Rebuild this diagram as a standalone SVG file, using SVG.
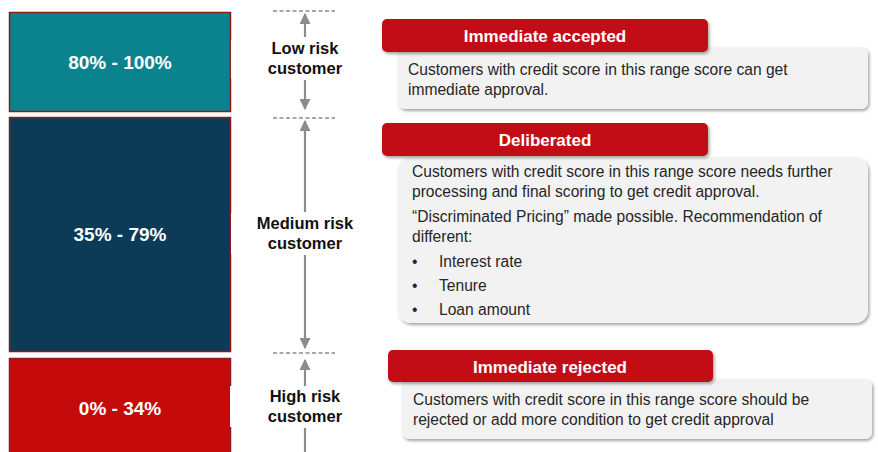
<svg xmlns="http://www.w3.org/2000/svg" width="878" height="452" viewBox="0 0 878 452">
  <style>
    .band { stroke: #8E1B1F; stroke-width: 1.5; }
    .band-text { font-family: "Liberation Sans", Arial, sans-serif; font-weight: bold; font-size: 19px; fill: #FFFFFF; text-anchor: middle; }
    .risk { font-family: "Liberation Sans", Arial, sans-serif; font-weight: bold; font-size: 16.5px; fill: #111111; text-anchor: middle; }
    .tab { fill: #C30B19; }
    .tab-text { font-family: "Liberation Sans", Arial, sans-serif; font-weight: bold; font-size: 17px; fill: #FFFFFF; text-anchor: middle; }
    .card { fill: #F2F2F2; }
    .body { font-family: "Liberation Sans", Arial, sans-serif; font-size: 15.6px; fill: #262626; }
    .guide { stroke: #8C8C8C; stroke-width: 1.3; stroke-dasharray: 4 2.5; fill: none; }
    .arrow { stroke: #8C8C8C; stroke-width: 2.2; fill: none; marker-end: url(#head); }
    .label-bg { fill: #FFFFFF; }
  </style>
  <defs>
    <marker id="head" viewBox="0 0 10 10" refX="9" refY="5" markerWidth="5" markerHeight="5" markerUnits="strokeWidth" orient="auto">
      <path d="M0,0 L10,5 L0,10 Z" fill="#8C8C8C"/>
    </marker>
    <filter id="shadow" x="-5%" y="-20%" width="112%" height="150%">
      <feDropShadow dx="1.5" dy="2" stdDeviation="1.5" flood-color="#000000" flood-opacity="0.35"/>
    </filter>
  </defs>

  <rect width="878" height="452" fill="#FFFFFF"/>

  <!-- score bands -->
  <g id="band-high-score">
    <rect class="band" x="9.5" y="12.5" width="221" height="99" fill="#0B838F"/>
    <text class="band-text" x="120" y="69">80% - 100%</text>
  </g>
  <g id="band-mid-score">
    <rect class="band" x="9.5" y="117.5" width="221" height="234" fill="#0B3B57"/>
    <text class="band-text" x="120" y="241">35% - 79%</text>
  </g>
  <g id="band-low-score">
    <rect class="band" x="9.5" y="358.5" width="221" height="100" fill="#C40A0B"/>
    <text class="band-text" x="120" y="415">0% - 34%</text>
  </g>

  <!-- risk range markers -->
  <g id="connectors">
    <line class="guide" x1="273" y1="11" x2="335" y2="11"/>
    <line class="guide" x1="273" y1="118" x2="335" y2="118"/>
    <line class="guide" x1="273" y1="353" x2="335" y2="353"/>
    <line class="arrow" x1="305" y1="37" x2="305" y2="14"/>
    <line class="arrow" x1="305" y1="80" x2="305" y2="109"/>
    <line class="arrow" x1="305" y1="212" x2="305" y2="121"/>
    <line class="arrow" x1="305" y1="255" x2="305" y2="348"/>
    <line class="arrow" x1="305" y1="386" x2="305" y2="360"/>
    <line class="arrow" x1="305" y1="428" x2="305" y2="475"/>
  </g>

  <g id="risk-low">
    <rect class="label-bg" x="231" y="40" width="148" height="39"/>
    <text class="risk" x="305" y="54">Low risk</text>
    <text class="risk" x="305" y="74">customer</text>
  </g>
  <g id="risk-medium">
    <rect class="label-bg" x="231" y="213" width="148" height="41"/>
    <text class="risk" x="305" y="229">Medium risk</text>
    <text class="risk" x="305" y="249">customer</text>
  </g>
  <g id="risk-high">
    <rect class="label-bg" x="230" y="386" width="149" height="41"/>
    <text class="risk" x="305" y="402">High risk</text>
    <text class="risk" x="305" y="422">customer</text>
  </g>

  <!-- decisions -->
  <g id="decision-accepted">
    <rect class="card" x="398" y="47" width="470" height="62" rx="7" filter="url(#shadow)"/>
    <rect class="tab" x="382" y="19" width="326" height="33" rx="5" filter="url(#shadow)"/>
    <text class="tab-text" x="545" y="42">Immediate accepted</text>
    <text class="body" x="408" y="75">Customers with credit score in this range score can get</text>
    <text class="body" x="408" y="95">immediate approval.</text>
  </g>

  <g id="decision-deliberated">
    <rect class="card" x="398" y="157" width="470" height="166" rx="13" filter="url(#shadow)"/>
    <rect class="tab" x="382" y="123" width="326" height="33" rx="5" filter="url(#shadow)"/>
    <text class="tab-text" x="545" y="146">Deliberated</text>
    <text class="body" x="412" y="177">Customers with credit score in this range score needs further</text>
    <text class="body" x="412" y="197">processing and final scoring to get credit approval.</text>
    <text class="body" x="412" y="222">“Discriminated Pricing” made possible. Recommendation of</text>
    <text class="body" x="412" y="242">different:</text>
    <text class="body" x="412" y="267">•</text>
    <text class="body" x="439" y="267">Interest rate</text>
    <text class="body" x="412" y="291">•</text>
    <text class="body" x="439" y="291">Tenure</text>
    <text class="body" x="412" y="315">•</text>
    <text class="body" x="439" y="315">Loan amount</text>
  </g>

  <g id="decision-rejected">
    <rect class="card" x="402" y="379" width="470" height="60" rx="7" filter="url(#shadow)"/>
    <rect class="tab" x="388" y="350" width="325" height="32" rx="5" filter="url(#shadow)"/>
    <text class="tab-text" x="550" y="373">Immediate rejected</text>
    <text class="body" x="413" y="405">Customers with credit score in this range score should be</text>
    <text class="body" x="413" y="425">rejected or add more condition to get credit approval</text>
  </g>
</svg>
